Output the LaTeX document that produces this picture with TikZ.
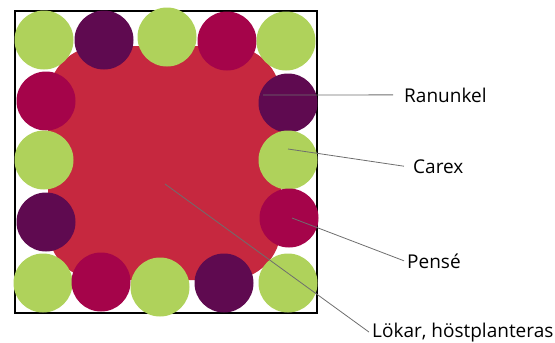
\documentclass[tikz,border=0pt]{standalone}
\usepackage{fontspec}
\setmainfont{Open Sans}
\definecolor{lgreen}{HTML}{AFD25B}
\definecolor{dpurple}{HTML}{5F0A50}
\definecolor{crimson}{HTML}{A5044A}
\definecolor{bred}{HTML}{C6283F}
\definecolor{leader}{HTML}{6E6E6E}
\tikzset{
  plant/.style={circle, minimum size=59pt, inner sep=0pt, draw=none},
  G/.style={plant, fill=lgreen},
  P/.style={plant, fill=dpurple},
  C/.style={plant, fill=crimson},
  lbl/.style={anchor=base west, font=\fontsize{19}{21}\selectfont, text=black, inner sep=3pt},
  lead/.style={draw=leader, line width=0.8pt}
}
\begin{document}
\begin{tikzpicture}[x=1pt,y=-1pt]
\useasboundingbox (0,0) rectangle (555,343);
% frame
\draw[line width=2pt, black] (15,11) rectangle (317,313);
% bulb bed
\fill[bred, rounded corners=52pt] (48,46) rectangle (281,280);
% top row
\node[G] (t1) at (44,40) {};
\node[P] (t2) at (104,40) {};
\node[G] (t3) at (167,37) {};
\node[C] (t4) at (227,41) {};
\node[G] (t5) at (286,41) {};
% left column
\node[C] (l1) at (46,101) {};
\node[G] (l2) at (44,160) {};
\node[P] (l3) at (46,222) {};
\node[G] (l4) at (43,283) {};
% bottom row
\node[C] (b1) at (101,282) {};
\node[G] (b2) at (160,287) {};
\node[P] (b3) at (224,283) {};
\node[G] (b4) at (288,283) {};
% right column
\node[P] (r1) at (288,103) {};
\node[G] (r2) at (288,160) {};
\node[C] (r3) at (289,218) {};
% labels
\node[lbl] (ran) at (401,102) {Ranunkel};
\node[lbl] (car) at (410,173) {Carex};
\node[lbl] (pen) at (404,268) {Pensé};
\node[lbl] (lok) at (369,337) {Lökar, höstplanteras};
% leader start points
\coordinate (sran) at (263,95);
\coordinate (scar) at (288,149);
\coordinate (spen) at (292,218);
\coordinate (slok) at (165,184);
\draw[lead] (sran) -- ([xshift=-8pt]ran.west);
\draw[lead] (scar) -- ([xshift=-6pt]car.west);
\draw[lead] (spen) -- (pen.west);
\draw[lead] (slok) -- (lok.west);
\end{tikzpicture}
\end{document}
